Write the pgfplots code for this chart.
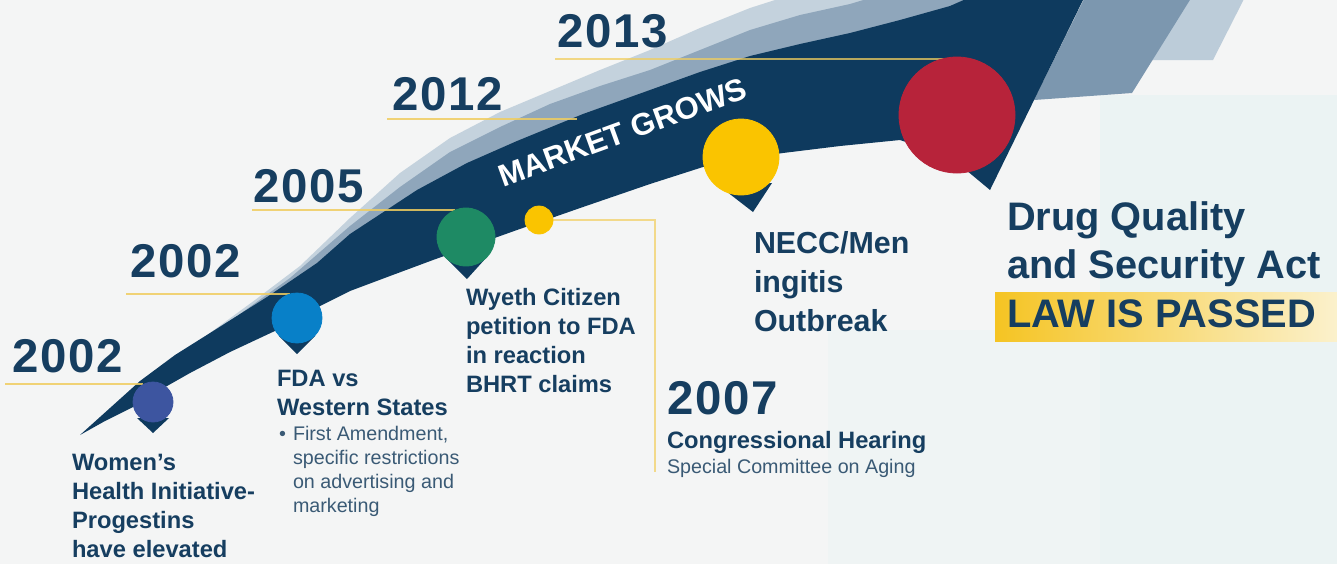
\documentclass[border=0pt]{standalone}
\usepackage{fontspec}
\setmainfont{Liberation Sans}
\usepackage{pgfplots}
\pgfplotsset{compat=1.18}

\definecolor{bg}{HTML}{F4F5F5}
\definecolor{tint}{HTML}{EBF3F3}
\definecolor{tint2}{HTML}{EFF4F4}
\definecolor{navy}{HTML}{0E3A5E}
\definecolor{ink}{HTML}{163E60}
\definecolor{inklight}{HTML}{3A5A75}
\definecolor{shadeL}{HTML}{C4D2DD}
\definecolor{shadeM}{HTML}{8FA6BB}
\definecolor{checkM}{HTML}{7C97AF}
\definecolor{checkL}{HTML}{BCCCD9}
\definecolor{yline}{HTML}{F0CD5F}
\definecolor{ylight}{HTML}{F2D98A}
\definecolor{pinindigo}{HTML}{3D55A0}
\definecolor{pinblue}{HTML}{0880C8}
\definecolor{pingreen}{HTML}{1E8A64}
\definecolor{pinyellow}{HTML}{FAC400}
\definecolor{pinred}{HTML}{B7233A}
\definecolor{lawL}{HTML}{F5C423}
\definecolor{lawR}{HTML}{FBF1CC}

\newcommand\yr{\fontsize{23.7}{28}\selectfont\bfseries\addfontfeature{LetterSpace=4}}
\newcommand\lb{\fontsize{11.85}{14}\selectfont\bfseries}
\newcommand\sm{\fontsize{9.85}{12}\selectfont}
\newcommand\nc{\fontsize{15.2}{18}\selectfont\bfseries}
\newcommand\dq{\fontsize{19.9}{24}\selectfont\bfseries}

\tikzset{t/.style={inner sep=0pt, outer sep=0pt, anchor=base west, text=ink}}

\begin{document}
\begin{tikzpicture}
\begin{axis}[
  width=668.5pt, height=282pt, scale only axis,
  xmin=0, xmax=1337, ymin=0, ymax=564, y dir=reverse,
  hide axis,
]
% background
\addplot[fill=bg, draw=none] coordinates {(0,0) (1337,0) (1337,564) (0,564)} --cycle;
\addplot[fill=tint, draw=none] coordinates {(1100,95) (1337,95) (1337,564) (1100,564)} --cycle;
\addplot[fill=tint2, draw=none] coordinates {(828,330) (1100,330) (1100,564) (828,564)} --cycle;

% shadows behind the swoosh
\addplot[fill=shadeL, draw=none] coordinates {
  (210,333) (255,300) (300,266) (350,218) (400,173) (450,138) (500,112)
  (550,91) (600,70) (650,50) (700,28) (750,8) (775,0) (780,-5) (975,-5)
  (950,30) (700,110) (450,200) (300,280)} --cycle;
\addplot[fill=shadeM, draw=none] coordinates {
  (240,314) (290,278) (350,226) (400,187) (450,152) (500,127) (550,104)
  (600,86) (650,70) (700,50) (750,30) (800,15) (850,4) (880,-5) (975,-5)
  (950,30) (700,110) (450,200) (300,280)} --cycle;
\addplot[fill=checkL, draw=none] coordinates {(1152,60) (1213,60) (1246,-5) (1190,-5)} --cycle;
\addplot[fill=checkM, draw=none] coordinates {(1086,-5) (1034,100) (1132,93) (1193,-5)} --cycle;

% main swoosh
\addplot[fill=navy, draw=none] coordinates {
  (80,435) (110,408) (140,381) (175,355) (210,333) (240,314) (267,297)
  (317,263) (350,234) (417,190) (467,163) (517,141) (583,114) (650,90)
  (700,72) (750,56) (800,44) (850,33) (900,20) (950,6) (975,-5) (1090,-5)
  (1083,0) (990,190) (960,165) (930,150) (900,140) (840,146) (783,153)
  (740,159) (703,167) (650,184) (583,207) (517,230) (475,245) (433,260)
  (390,276) (350,291) (310,311) (277,330) (230,352) (190,373) (160,390)
  (133,407) (105,421)} --cycle;

% year leader lines
\addplot[yline, line width=1.3pt, opacity=0.85] coordinates {(5,384) (143,384)};
\addplot[yline, line width=1.3pt, opacity=0.85] coordinates {(126,294) (290,294)};
\addplot[yline, line width=1.3pt, opacity=0.85] coordinates {(252,210) (455,210)};
\addplot[yline, line width=1.3pt, opacity=0.85] coordinates {(387,119) (577,119)};
\addplot[yline, line width=1.3pt, opacity=0.75] coordinates {(555,59) (944,59)};
\addplot[ylight, line width=1.1pt] coordinates {(553,220) (655,220) (655,472)};

% pin tails
\addplot[fill=navy, draw=none] coordinates {(137,418) (169,418) (153,433)} --cycle;
\addplot[fill=navy, draw=none] coordinates {(279,336) (315,336) (297,354)} --cycle;
\addplot[fill=navy, draw=none] coordinates {(446,258) (486,258) (467,279)} --cycle;
\addplot[fill=navy, draw=none] coordinates {(722,188) (772,183) (753,212)} --cycle;

% pins
\addplot[only marks, color=pinindigo, mark=*, mark size=10pt] coordinates {(153,402)};
\addplot[only marks, color=pinblue, mark=*, mark size=12.5pt] coordinates {(297,318)};
\addplot[only marks, color=pingreen, mark=*, mark size=14.5pt] coordinates {(466,237)};
\addplot[only marks, color=pinyellow, mark=*, mark size=7pt] coordinates {(539,220)};
\addplot[only marks, color=pinyellow, mark=*, mark size=19pt] coordinates {(741,157)};
\addplot[only marks, color=pinred, mark=*, mark size=29pt] coordinates {(957,115)};

% law box
\addplot[draw=none, left color=lawL, right color=lawR] coordinates {(995,292) (1337,292) (1337,341) (995,341)} --cycle;

% years
\node[t, font=\yr] at (12,372) {2002};
\node[t, font=\yr] at (130,277) {2002};
\node[t, font=\yr] at (253,202) {2005};
\node[t, font=\yr] at (392,110) {2012};
\node[t, font=\yr] at (557,47) {2013};
\node[t, font=\yr] at (667,414) {2007};

\node[t, font=\fontsize{15.5}{18}\selectfont\bfseries, text=white, rotate=20] at (503,187) {MARKET GROWS};

% labels
\node[t, font=\lb] at (72,470) {Women’s};
\node[t, font=\lb] at (72,499) {Health Initiative-};
\node[t, font=\lb] at (72,528) {Progestins};
\node[t, font=\lb] at (72,557) {have elevated};

\node[t, font=\lb] at (277,386) {FDA vs};
\node[t, font=\lb] at (277,415) {Western States};
\node[t, font=\sm, text=inklight] at (279,440) {•};
\node[t, font=\sm, text=inklight] at (293,440) {First Amendment,};
\node[t, font=\sm, text=inklight] at (293,464) {specific restrictions};
\node[t, font=\sm, text=inklight] at (293,488) {on advertising and};
\node[t, font=\sm, text=inklight] at (293,512) {marketing};

\node[t, font=\lb] at (466,305) {Wyeth Citizen};
\node[t, font=\lb] at (466,334) {petition to FDA};
\node[t, font=\lb] at (466,363) {in reaction};
\node[t, font=\lb] at (466,392) {BHRT claims};

\node[t, font=\lb] at (667,448) {Congressional Hearing};
\node[t, font=\sm, text=inklight] at (667,473) {Special Committee on Aging};

\node[t, font=\nc] at (754,253) {NECC/Men};
\node[t, font=\nc] at (754,292) {ingitis};
\node[t, font=\nc] at (754,331) {Outbreak};

\node[t, font=\dq] at (1007,230) {Drug Quality};
\node[t, font=\dq] at (1007,278) {and Security Act};
\node[t, font=\dq] at (1007,327) {LAW IS PASSED};
\end{axis}
\end{tikzpicture}
\end{document}
